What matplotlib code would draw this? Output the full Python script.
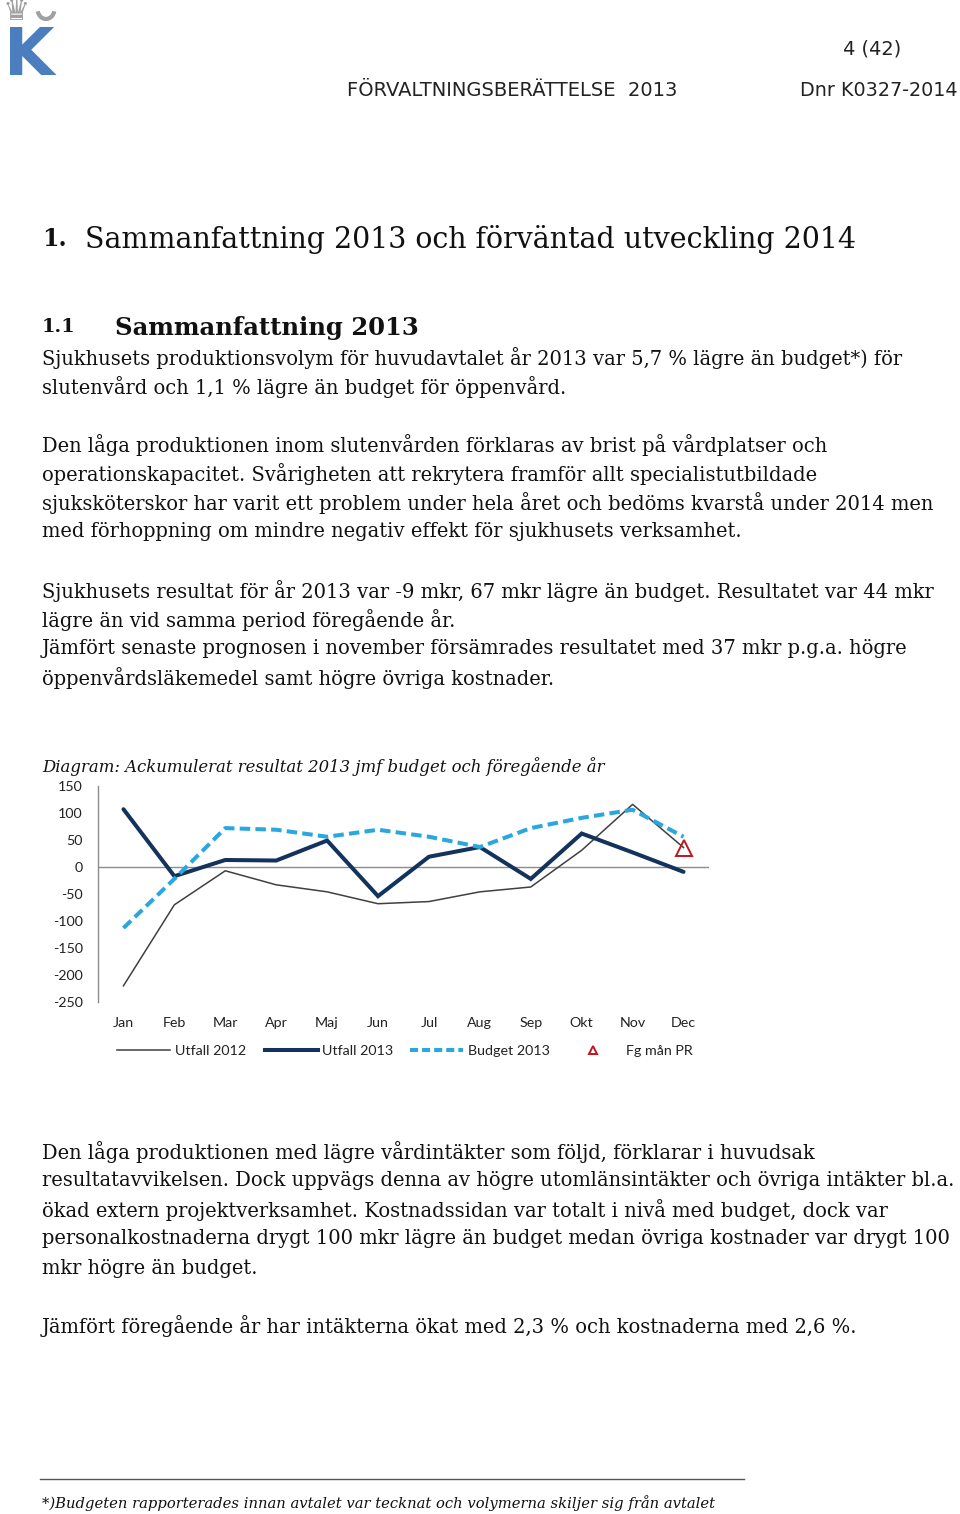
import matplotlib
matplotlib.use("Agg")
import matplotlib.pyplot as plt
from matplotlib.lines import Line2D
from matplotlib.patches import Arc
import numpy as np

# =====================================================
# DATA (läst ur diagrammet, mkr ackumulerat)
# =====================================================
MONTHS = ["Jan", "Feb", "Mar", "Apr", "Maj", "Jun", "Jul", "Aug", "Sep", "Okt", "Nov", "Dec"]
UTFALL_2012 = [-220, -70, -7, -33, -46, -68, -64, -46, -37, 31, 116, 36]
UTFALL_2013 = [107, -17, 13, 12, 49, -54, 19, 37, -22, 62, 27, -9]
BUDGET_2013 = [-113, -22, 72, 69, 56, 69, 56, 37, 72, 91, 106, 56]
FG_MAN_PR_MONTH = "Dec"
FG_MAN_PR_VALUE = 35
Y_TICKS = [150, 100, 50, 0, -50, -100, -150, -200, -250]

SERIES_NAMES = ["Utfall 2012", "Utfall 2013", "Budget 2013", "Fg mån PR"]

# texter: (text, y-mitt i px, högerkant i px)
BODY_LINES = [
    ("Sjukhusets produktionsvolym för huvudavtalet år 2013 var 5,7 % lägre än budget*) för", 356, 906),
    ("slutenvård och 1,1 % lägre än budget för öppenvård.", 385, 560),
    ("Den låga produktionen inom slutenvården förklaras av brist på vårdplatser och", 443, 835),
    ("operationskapacitet. Svårigheten att rekrytera framför allt specialistutbildade", 472, 819),
    ("sjuksköterskor har varit ett problem under hela året och bedöms kvarstå under 2014 men", 501, 939),
    ("med förhoppning om mindre negativ effekt för sjukhusets verksamhet.", 530, 751),
    ("Sjukhusets resultat för år 2013 var -9 mkr, 67 mkr lägre än budget. Resultatet var 44 mkr", 589, 937),
    ("lägre än vid samma period föregående år.", 618, 458),
    ("Jämfört senaste prognosen i november försämrades resultatet med 37 mkr p.g.a. högre", 647, 915),
    ("öppenvårdsläkemedel samt högre övriga kostnader.", 676, 561),
    ("Den låga produktionen med lägre vårdintäkter som följd, förklarar i huvudsak", 1150, 825),
    ("resultatavvikelsen. Dock uppvägs denna av högre utomlänsintäkter och övriga intäkter bl.a.", 1179, 958),
    ("ökad extern projektverksamhet. Kostnadssidan var totalt i nivå med budget, dock var", 1208, 896),
    ("personalkostnaderna drygt 100 mkr lägre än budget medan övriga kostnader var drygt 100", 1237, 953),
    ("mkr högre än budget.", 1266, 257),
    ("Jämfört föregående år har intäkterna ökat med 2,3 % och kostnaderna med 2,6 %.", 1324, 865),
]

W, H = 960, 1514
SERIF = "DejaVu Serif"
SANS = "DejaVu Sans"
CHART_FONT = "Lato"

C_2012 = "#404040"
C_2013 = "#14335c"
C_BUDGET = "#2aa7df"
C_PR = "#c0161d"
C_AXIS = "#8c8c8c"

fig = plt.figure(figsize=(W / 100, H / 100), dpi=100)
renderer = fig.canvas.get_renderer()


def fx(x):
    return x / W


def fy(y):
    return 1 - y / H


def fit_size(s, width, **kw):
    t = fig.text(0, 0, s, fontsize=10, **kw)
    w = t.get_window_extent(renderer).width
    t.remove()
    return 10 * width / w


def put(s, x, y, right=None, size=None, ha="left", **kw):
    if size is None:
        size = fit_size(s, right - x, **kw)
    return fig.text(fx(x), fy(y), s, fontsize=size, ha=ha, va="center_baseline", **kw)


# =====================================================
# SIDHUVUD
# =====================================================
fig.text(fx(4), fy(75), "K", fontsize=47, fontweight="bold", family=SANS,
         color="#4a7ebf", ha="left", va="baseline")
fig.text(fx(16), fy(12), "\u265b", fontsize=22, family=SANS, color="#a0a0a0",
         ha="center", va="center")
fig.add_artist(Arc((fx(46), fy(9)), 17 / W, 20 / H, theta1=190, theta2=350,
                   transform=fig.transFigure, color="#a0a0a0", lw=3))

put("4 (42)", 843, 47, right=901, family=SANS, color="#222222")
put("FÖRVALTNINGSBERÄTTELSE  2013", 347, 88, right=676, family=SANS, color="#222222")
put("Dnr K0327-2014", 800, 88, right=957, family=SANS, color="#222222")

# =====================================================
# RUBRIKER + BRÖDTEXT
# =====================================================
put("1.", 42, 236, right=67, family=SERIF, fontweight="bold", color="#111111")
put("Sammanfattning 2013 och förväntad utveckling 2014", 85, 236, right=860,
    family=SERIF, color="#111111")
put("1.1", 42, 325, right=76, family=SERIF, fontweight="bold", color="#111111")
put("Sammanfattning 2013", 115, 325, right=420, family=SERIF, fontweight="bold",
    color="#111111")

body_size = np.median([fit_size(s, r - 42, family=SERIF) for s, y, r in BODY_LINES])
for s, y, r in BODY_LINES:
    put(s, 42, y, size=body_size, family=SERIF, color="#111111")

put("Diagram: Ackumulerat resultat 2013 jmf budget och föregående år", 42, 765,
    right=603, family=SERIF, style="italic", color="#111111")

fig.add_artist(Line2D([fx(40), fx(744)], [fy(1479), fy(1479)],
                      transform=fig.transFigure, color="#555555", lw=1))
put("*)Budgeten rapporterades innan avtalet var tecknat och volymerna skiljer sig från avtalet",
    42, 1502, right=714, family=SERIF, style="italic", color="#111111")

# =====================================================
# DIAGRAM
# =====================================================
ax = fig.add_axes([fx(98), fy(1002), (709 - 98) / W, (1002 - 786) / H])
x = np.arange(len(MONTHS))

ax.plot(x, UTFALL_2012, color=C_2012, lw=1.1, zorder=2)
ax.plot(x, UTFALL_2013, color=C_2013, lw=2.9, solid_capstyle="round",
        solid_joinstyle="miter", zorder=3)
ax.plot(x, BUDGET_2013, color=C_BUDGET, lw=2.9, dashes=(2.6, 1.3), zorder=4)
ax.plot([MONTHS.index(FG_MAN_PR_MONTH)], [FG_MAN_PR_VALUE], linestyle="none",
        marker="^", markersize=11, markerfacecolor="none", markeredgecolor=C_PR,
        markeredgewidth=1.4, zorder=5)

ax.axhline(0, color=C_AXIS, lw=1, zorder=1)
ax.set_xlim(-0.5, len(MONTHS) - 0.5)
ax.set_ylim(-250, 150)
ax.set_yticks(Y_TICKS)
ax.set_yticklabels([str(v) for v in Y_TICKS], family=CHART_FONT, fontsize=10.3,
                   color="#222222")
ax.set_xticks(x)
ax.set_xticklabels(MONTHS, family=CHART_FONT, fontsize=10.3, color="#222222")
ax.tick_params(axis="y", length=0, pad=11)
ax.tick_params(axis="x", length=0, pad=11)
for side in ["top", "right", "bottom"]:
    ax.spines[side].set_visible(False)
ax.spines["left"].set_color(C_AXIS)
ax.spines["left"].set_linewidth(1)
ax.patch.set_alpha(0)

# förklaring (ritad för hand för att träffa positionerna)
leg_y = 1050
fig.add_artist(Line2D([fx(117), fx(170)], [fy(leg_y), fy(leg_y)],
                      transform=fig.transFigure, color=C_2012, lw=1.1))
fig.add_artist(Line2D([fx(265), fx(318)], [fy(leg_y), fy(leg_y)],
                      transform=fig.transFigure, color=C_2013, lw=2.9))
fig.add_artist(Line2D([fx(410), fx(463)], [fy(leg_y), fy(leg_y)],
                      transform=fig.transFigure, color=C_BUDGET, lw=2.9, dashes=(2.0, 1.0)))
fig.add_artist(Line2D([fx(593)], [fy(leg_y)], transform=fig.transFigure,
                      marker="^", markersize=6, markerfacecolor="none",
                      markeredgecolor=C_PR, markeredgewidth=1.4, linestyle="none"))
for name, lx in zip(SERIES_NAMES, [175, 322, 468, 626]):
    fig.text(fx(lx), fy(leg_y), name, family=CHART_FONT, fontsize=10.3,
             color="#222222", ha="left", va="center_baseline")

fig.savefig("out.png", dpi=100, facecolor="white")
plt.close(fig)
